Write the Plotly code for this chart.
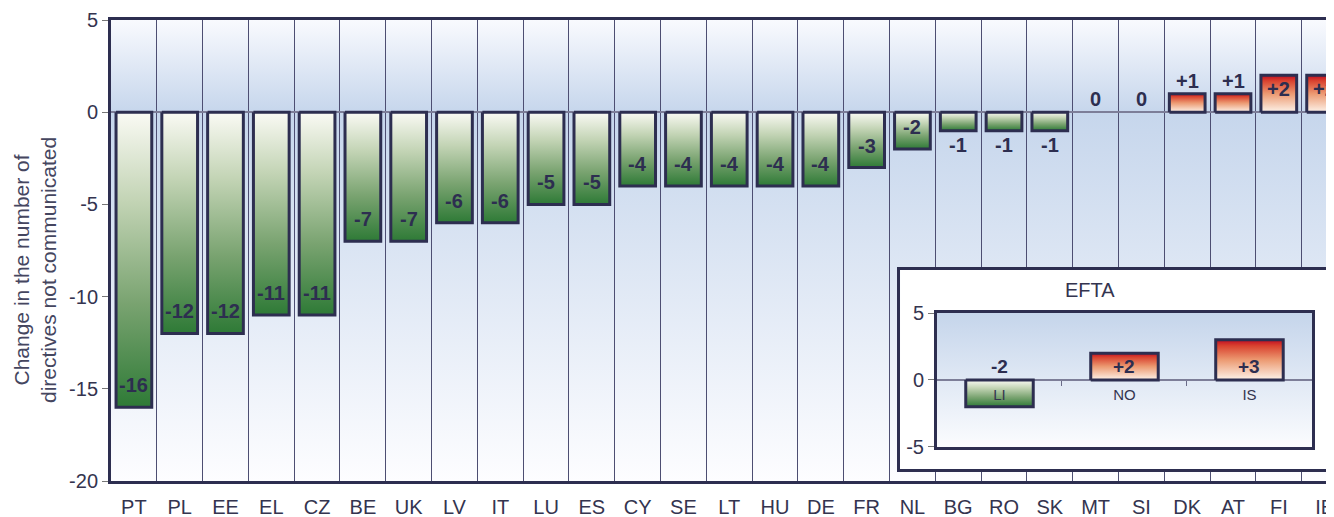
import base64

import plotly.graph_objects as go

countries = ["PT", "PL", "EE", "EL", "CZ", "BE", "UK", "LV", "IT", "LU", "ES", "CY", "SE", "LT",
             "HU", "DE", "FR", "NL", "BG", "RO", "SK", "MT", "SI", "DK", "AT", "FI", "IE"]
changes = [-16, -12, -12, -11, -11, -7, -7, -6, -6, -5, -5, -4, -4, -4,
           -4, -4, -3, -2, -1, -1, -1, 0, 0, 1, 1, 2, 2]
efta_countries = ["LI", "NO", "IS"]
efta_changes = [-2, 2, 3]
y_ticks = [-20, -15, -10, -5, 0, 5]
efta_ticks = [-5, 0, 5]

INK = "#2d2e50"
TXT = "#34344f"
FONT = "Liberation Sans, Arial, sans-serif"
GREEN = [[0, "#2e7a36"], [0.35, "#79a370"], [0.7, "#c3d4b5"], [1, "#fafaf4"]]
RED = [[0, "#fdf3ea"], [0.5, "#ec9a72"], [0.85, "#d9422f"], [1, "#c00c22"]]


def gradient_svg(stops):
    s = "".join(f"<stop offset='{o}' stop-color='{c}'/>" for o, c in stops)
    svg = ("<svg xmlns='http://www.w3.org/2000/svg' width='10' height='100' viewBox='0 0 10 100' "
           "preserveAspectRatio='none'><defs><linearGradient id='g' x1='0' y1='0' x2='0' y2='1'>"
           f"{s}</linearGradient></defs><rect width='10' height='100' fill='url(#g)'/></svg>")
    return "data:image/svg+xml;base64," + base64.b64encode(svg.encode()).decode()


def signed(v):
    return f"+{v}" if v > 0 else str(v)


def bar(i, v, half, xa, ya):
    lo, hi = min(v, 0), max(v, 0)
    return go.Scatter(
        x=[i - half, i + half, i + half, i - half, i - half],
        y=[0, 0, v, v, 0],
        mode="lines", fill="toself",
        fillgradient=dict(type="vertical", colorscale=GREEN if v < 0 else RED, start=lo, stop=hi),
        line=dict(color=INK, width=3),
        xaxis=xa, yaxis=ya, hoverinfo="skip", showlegend=False,
    )


fig = go.Figure()

# main chart
for i, v in enumerate(changes):
    if v != 0:
        fig.add_trace(bar(i, v, 0.39, "x", "y"))
    if v <= -2:
        anc, shift = "bottom", 9
    elif v == -1:
        anc, shift = "top", -1
    elif v <= 1:
        anc, shift = "bottom", 0
    else:
        anc, shift = "top", -1
    fig.add_annotation(x=i, y=v, xref="x", yref="y", text=f"<b>{signed(v)}</b>", showarrow=False,
                       yanchor=anc, yshift=shift, font=dict(size=20, color=INK, family=FONT))

# inset frame (white box)
fig.add_trace(go.Scatter(x=[], y=[], xaxis="x2", yaxis="y2", showlegend=False))

# inset chart
for i, v in enumerate(efta_changes):
    fig.add_trace(bar(i, v, 0.27, "x3", "y3"))
    fig.add_annotation(x=i, y=1, xref="x3", yref="y3", text=f"<b>{signed(v)}</b>", showarrow=False,
                       yanchor="middle", font=dict(size=19, color=INK, family=FONT))
fig.add_trace(go.Scatter(x=[], y=[], xaxis="x4", yaxis="y3", showlegend=False))

# the page body adds an 8px offset; the plot runs off the right edge like the original crop
x_lo, x_hi = -0.5, 26.38
y_lo, y_hi = -20, 5
in_dom_y = [0.0738, 0.3644]
zero_pos = in_dom_y[0] + (0 - efta_ticks[0]) / (efta_ticks[-1] - efta_ticks[0]) * (in_dom_y[1] - in_dom_y[0])

fig.add_layout_image(
    source=gradient_svg([(0, "#f9fafe"), (y_hi / (y_hi - y_lo), "#c6d6ec"), (1, "#fdfdff")]),
    xref="x", yref="y", x=x_lo, y=y_hi, sizex=x_hi - x_lo, sizey=y_hi - y_lo,
    xanchor="left", yanchor="top", sizing="stretch", layer="below",
)
fig.add_layout_image(
    source=gradient_svg([(0, "#c5d5eb"), (1, "#fbfcfe")]),
    xref="x3", yref="y3", x=-0.5, y=5, sizex=3, sizey=10,
    xanchor="left", yanchor="top", sizing="stretch", layer="below",
)

fig.add_annotation(x=0, y=0.4577, xref="paper", yref="paper", xshift=-76, textangle=-90,
                   xanchor="center", yanchor="middle",
                   text="Change in the number of<br>directives not communicated", showarrow=False,
                   font=dict(size=21, color="#45465f", family=FONT))
fig.add_annotation(x=0.8172, y=0.4143, xref="paper", yref="paper", text="EFTA", showarrow=False,
                   font=dict(size=20, color=TXT, family=FONT))

fig.update_layout(
    width=1334, height=517,
    margin=dict(l=103, r=0, t=12, b=44),
    paper_bgcolor="white", plot_bgcolor="white",
    font=dict(family=FONT, color=TXT),
    xaxis=dict(
        range=[x_lo, x_hi], domain=[0, 1], tickmode="array",
        tickvals=list(range(len(countries))), ticktext=countries,
        showgrid=False, zeroline=False, ticks="", ticklabelstandoff=6,
        tickfont=dict(size=20, color=TXT),
        showline=True, linecolor=INK, linewidth=3, mirror=True,
        minor=dict(tickmode="array", tickvals=[i + 0.5 for i in range(len(countries) - 1)],
                   showgrid=True, gridcolor="#4d4e72", gridwidth=1.3, ticks=""),
        automargin=False, fixedrange=True,
    ),
    yaxis=dict(
        range=[y_lo, y_hi], tickmode="array", tickvals=y_ticks, ticktext=[str(t) for t in y_ticks],
        showgrid=False, zeroline=True, zerolinecolor="#7d7e98", zerolinewidth=1.5,
        ticks="outside", ticklen=6, tickcolor="#777", tickfont=dict(size=20, color=TXT),
        showline=True, linecolor=INK, linewidth=3,
        automargin=False, fixedrange=True,
    ),
    xaxis2=dict(domain=[0.641, 0.9925], anchor="y2", range=[0, 1], showgrid=False, zeroline=False,
                showticklabels=False, ticks="", showline=True, mirror=True,
                linecolor=INK, linewidth=3, fixedrange=True),
    yaxis2=dict(domain=[0.026, 0.458], anchor="x2", range=[0, 1], showgrid=False, zeroline=False,
                showticklabels=False, ticks="", showline=True, mirror=True,
                linecolor=INK, linewidth=3, fixedrange=True),
    xaxis3=dict(domain=[0.671, 0.9756], anchor="free", position=zero_pos, range=[-0.5, 2.5],
                tickmode="array", tickvals=[0, 1, 2], ticktext=efta_countries,
                showgrid=False, zeroline=False, showline=False, ticks="",
                ticklabelstandoff=4, tickfont=dict(size=15, color=TXT),
                minor=dict(tickmode="array", tickvals=[0.5, 1.5], ticks="outside", ticklen=5,
                           tickcolor="#6a6b88", showgrid=False),
                automargin=False, fixedrange=True),
    yaxis3=dict(domain=in_dom_y, anchor="x3", range=[-5, 5], tickmode="array", tickvals=efta_ticks,
                ticktext=[str(t) for t in efta_ticks],
                showgrid=False, zeroline=True, zerolinecolor="#7d7e98", zerolinewidth=1.5,
                ticks="outside", ticklen=6, tickcolor="#777", tickfont=dict(size=20, color=TXT),
                showline=True, mirror=True, linecolor=INK, linewidth=3,
                automargin=False, fixedrange=True),
    xaxis4=dict(overlaying="x3", anchor="y3", range=[-0.5, 2.5], showgrid=False, zeroline=False,
                showticklabels=False, ticks="", showline=True, mirror=True,
                linecolor=INK, linewidth=3, fixedrange=True),
)

fig.write_html("out.html")
